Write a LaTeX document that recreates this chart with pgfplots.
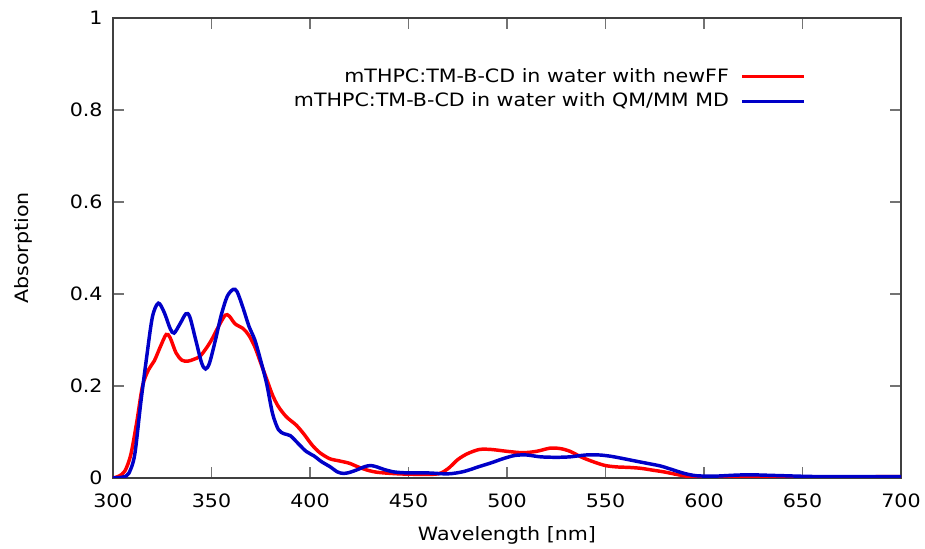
\documentclass[border=0pt]{standalone}
\usepackage{fontspec}
\setmainfont{DejaVu Sans}[FakeStretch=1.12]
\usepackage{pgfplots}
\pgfplotsset{compat=1.18}
\definecolor{gred}{RGB}{255,0,0}
\definecolor{gblue}{RGB}{0,0,200}
\begin{document}
\fontsize{13.8pt}{16pt}\selectfont
\begin{tikzpicture}
\begin{axis}[
  at={(0,0)}, anchor=south west,
  scale only axis, width=591pt, height=345pt,
  xmin=300, xmax=700, ymin=0, ymax=1,
  xtick={300,350,...,700},
  ytick={0,0.2,0.4,0.6,0.8,1},
  yticklabels={0,0.2,0.4,0.6,0.8,1},
  /pgf/number format/assume math mode=true,
  tick align=inside,
  major tick length=8pt,
  tick style={black!55, line width=0.8pt},
  axis line style={black!75, line width=0.8pt},
  xticklabel style={font=\fontsize{13.8pt}{16pt}\selectfont, yshift=-7pt},
  yticklabel style={font=\fontsize{13.8pt}{16pt}\selectfont, xshift=-3pt},
  xlabel={Wavelength [nm]},
  ylabel={Absorption},
  xlabel style={font=\fontsize{13.8pt}{16pt}\selectfont, yshift=-5pt},
  ylabel style={font=\fontsize{13.8pt}{16pt}\selectfont, yshift=19pt},
  legend plot pos=right,
  legend cell align=right,
  legend style={draw=none, fill=none, font=\fontsize{13.8pt}{16pt}\selectfont,
    at={(522.5pt,311.5pt)}, anchor=north east, row sep=2pt,
    /tikz/every even column/.append style={column sep=0pt},
    /tikz/every odd column/.append style={column sep=6.75pt}},
  legend image code/.code={\draw[#1] (0pt,0pt) -- (46pt,0pt);},
]
\addplot[gred, line width=2.6pt, smooth] coordinates {
(300,0) (303,0.004) (306,0.015) (309,0.05) (312,0.12) (315,0.2) (318,0.235) (321,0.255)
(324,0.285) (327,0.312) (329,0.305) (332,0.272) (335,0.256) (338,0.254) (341,0.258)
(344,0.264) (347,0.28) (350,0.3) (354,0.333) (357,0.354) (359,0.352) (362,0.335)
(366,0.325) (369,0.31) (372,0.285) (375,0.25) (378,0.215) (381,0.18) (384,0.155)
(388,0.133) (393,0.115) (397,0.095) (401,0.072) (405,0.055) (410,0.042) (415,0.037)
(420,0.032) (425,0.023) (430,0.016) (435,0.012) (445,0.009) (455,0.008) (465,0.009)
(470,0.02) (475,0.04) (480,0.053) (486,0.062) (492,0.062) (500,0.058) (508,0.055)
(515,0.058) (522,0.065) (527,0.064) (532,0.058) (538,0.045) (544,0.035) (550,0.027)
(556,0.024) (562,0.023) (568,0.021) (574,0.017) (580,0.013) (587,0.007) (595,0.002)
(610,0.001) (650,0.002) (700,0.003)
};
\addlegendentry{mTHPC:TM-B-CD in water with newFF}
\addplot[gblue, line width=2.6pt, smooth] coordinates {
(300,0) (305,0.002) (308,0.01) (311,0.05) (314,0.16) (317,0.26) (320,0.35) (323,0.38)
(326,0.36) (329,0.325) (331,0.315) (334,0.335) (337,0.357) (339,0.35) (342,0.3)
(345,0.25) (347,0.237) (349,0.25) (352,0.3) (355,0.355) (358,0.395) (361,0.41)
(363,0.405) (366,0.37) (369,0.33) (372,0.3) (375,0.255) (378,0.205) (381,0.14)
(384,0.105) (387,0.096) (390,0.092) (394,0.075) (398,0.058) (402,0.048) (406,0.035)
(410,0.025) (414,0.013) (417,0.01) (420,0.012) (424,0.018) (428,0.025) (431,0.027)
(434,0.024) (438,0.018) (443,0.013) (450,0.011) (460,0.011) (470,0.009) (478,0.014)
(486,0.025) (492,0.033) (498,0.042) (504,0.049) (510,0.05) (517,0.046) (525,0.045)
(532,0.046) (540,0.05) (547,0.05) (553,0.047) (558,0.043) (565,0.037) (571,0.032)
(578,0.026) (584,0.018) (590,0.01) (596,0.005) (605,0.004) (615,0.006) (623,0.007)
(632,0.006) (640,0.005) (660,0.003) (700,0.003)
};
\addlegendentry{mTHPC:TM-B-CD in water with QM/MM MD}
\end{axis}
\pgfresetboundingbox
\path[use as bounding box] (-84.75pt,-53.25pt) rectangle (609pt,358.5pt);
\end{tikzpicture}
\end{document}
